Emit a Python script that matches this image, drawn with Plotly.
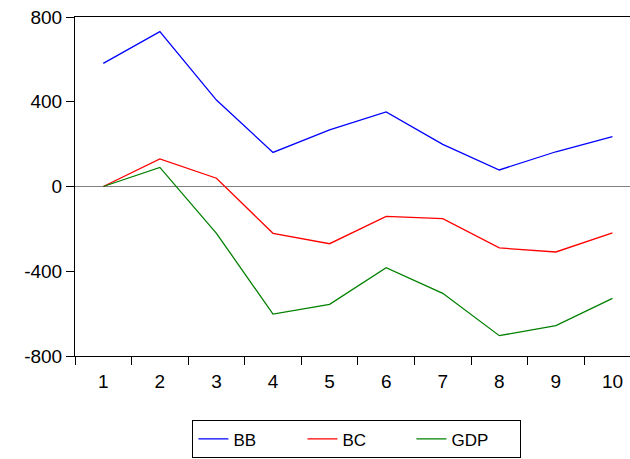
import plotly.graph_objects as go

periods = [1, 2, 3, 4, 5, 6, 7, 8, 9, 10]
bb = [581, 731, 408, 161, 267, 352, 199, 78, 164, 235]
bc = [0, 130, 39, -221, -270, -141, -152, -290, -309, -219]
gdp = [0, 90, -221, -602, -556, -383, -504, -704, -657, -528]
y_ticks = [-800, -400, 0, 400, 800]
y_labels = ["-800", "-400", "0", "400", "800"]

fig = go.Figure()
fig.add_trace(go.Scatter(x=periods, y=bb, name="BB", mode="lines",
                         line=dict(color="#0000FF", width=1.3)))
fig.add_trace(go.Scatter(x=periods, y=bc, name="BC", mode="lines",
                         line=dict(color="#FF0000", width=1.3)))
fig.add_trace(go.Scatter(x=periods, y=gdp, name="GDP", mode="lines",
                         line=dict(color="#008000", width=1.3)))

font = dict(family="Liberation Sans, Arial, sans-serif", size=19, color="black")

fig.update_layout(
    width=630, height=459,
    margin=dict(l=75, r=0, t=17, b=103, autoexpand=False),
    paper_bgcolor="white", plot_bgcolor="white",
    font=font,
    showlegend=True,
    legend=dict(orientation="h", x=0.508, xanchor="center", y=-0.19, yanchor="top",
                bordercolor="black", borderwidth=1, font=dict(size=17),
                entrywidth=64, entrywidthmode="pixels", traceorder="normal"),
    xaxis=dict(range=[0.5, 10.31], tickvals=periods, ticktext=[str(p) for p in periods],
               ticks="outside", ticklen=8, tickcolor="rgba(0,0,0,0)",
               showgrid=False, zeroline=False,
               showline=True, linecolor="black", linewidth=1, mirror=True,
               minor=dict(tickvals=[p - 0.5 for p in periods], ticks="outside",
                          ticklen=8, tickcolor="black", showgrid=False)),
    yaxis=dict(range=[-800, 800], tickvals=y_ticks, ticktext=y_labels,
               ticks="outside", ticklen=8,
               tickcolor="black", showgrid=False,
               zeroline=True, zerolinecolor="#808080", zerolinewidth=1.3,
               showline=True, linecolor="black", linewidth=1),
)

fig.write_html("out.html", config={"displayModeBar": False},
               post_script="document.body.style.margin='0';")
